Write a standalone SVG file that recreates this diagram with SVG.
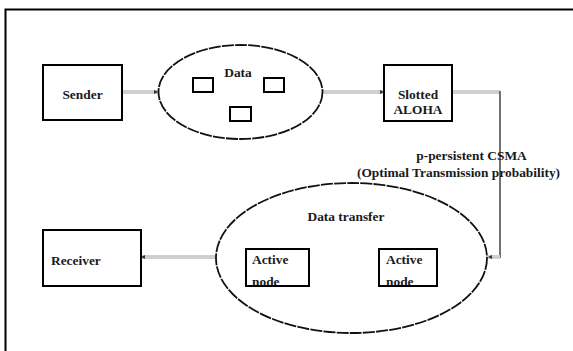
<svg xmlns="http://www.w3.org/2000/svg" width="573" height="351" viewBox="0 0 573 351">
  <style>
    .box { fill: #fff; stroke: #000; stroke-width: 2; }
    .oval { fill: #fff; stroke: #111; stroke-width: 1.8; stroke-dasharray: 12 1.2; }
    .flow { fill: none; stroke: #cfcfcf; stroke-width: 4; }
    .wire { fill: none; stroke: #444; stroke-width: 1.5; }
    text { font-family: "Liberation Serif", "Times New Roman", serif; font-size: 13.4px; font-weight: bold; fill: #1a1a1a; }
    .c { text-anchor: middle; }
  </style>
  <defs>
    <marker id="tip" viewBox="0 0 4 4" refX="4" refY="2" markerWidth="4" markerHeight="4" markerUnits="userSpaceOnUse" orient="auto">
      <path d="M0,0 L4,2 L0,4 z" fill="#333"/>
    </marker>
  </defs>
  <rect x="0" y="0" width="573" height="351" fill="#fff"/>
  <!-- outer frame -->
  <rect x="5.5" y="9.5" width="620" height="400" fill="none" stroke="#000" stroke-width="2"/>

  <g id="connectors">
    <line class="flow" x1="122" y1="92" x2="158" y2="92" marker-end="url(#tip)"/>
    <line class="flow" x1="323" y1="92" x2="384" y2="92" marker-end="url(#tip)"/>
    <line class="flow" x1="452" y1="92" x2="500" y2="92"/>
    <line class="wire" x1="500" y1="91" x2="500" y2="258"/>
    <line class="flow" x1="500" y1="257" x2="488" y2="257" marker-end="url(#tip)"/>
    <line class="flow" x1="216" y1="257" x2="141" y2="257" marker-end="url(#tip)"/>
    <line class="flow" x1="379" y1="267" x2="309" y2="267" marker-end="url(#tip)"/>
  </g>

  <g id="sender">
    <rect class="box" x="43" y="65" width="79" height="55"/>
    <text class="c" x="82.5" y="99">Sender</text>
  </g>

  <g id="data">
    <ellipse class="oval" cx="240.5" cy="92" rx="82" ry="47"/>
    <text class="c" x="238" y="77">Data</text>
    <rect class="box" x="193" y="78" width="20" height="14"/>
    <rect class="box" x="264" y="78" width="20" height="14"/>
    <rect class="box" x="230" y="107" width="21" height="14"/>
  </g>

  <g id="slotted-aloha">
    <rect class="box" x="384" y="65" width="68" height="56"/>
    <text class="c" x="418" y="99">Slotted</text>
    <text class="c" x="418" y="114">ALOHA</text>
  </g>

  <g id="csma-label">
    <text class="c" x="471.5" y="160">p-persistent CSMA</text>
    <text class="c" x="458.5" y="177">(Optimal Transmission probability)</text>
  </g>

  <g id="data-transfer">
    <ellipse class="oval" cx="351.5" cy="258" rx="135.5" ry="75"/>
    <text class="c" x="346" y="221">Data transfer</text>
  </g>

  <g id="active-node-left">
    <rect class="box" x="246" y="249" width="63" height="37"/>
    <text x="252" y="264">Active</text>
    <text x="252" y="286">node</text>
    <line x1="246" y1="286" x2="309" y2="286" stroke="#000" stroke-width="2"/>
  </g>

  <g id="active-node-right">
    <rect class="box" x="379" y="249" width="58" height="37"/>
    <text x="386" y="264">Active</text>
    <text x="386" y="286">node</text>
    <line x1="379" y1="286" x2="437" y2="286" stroke="#000" stroke-width="2"/>
  </g>

  <g id="receiver">
    <rect class="box" x="43" y="230" width="98" height="56"/>
    <text x="51" y="265">Receiver</text>
  </g>
</svg>
